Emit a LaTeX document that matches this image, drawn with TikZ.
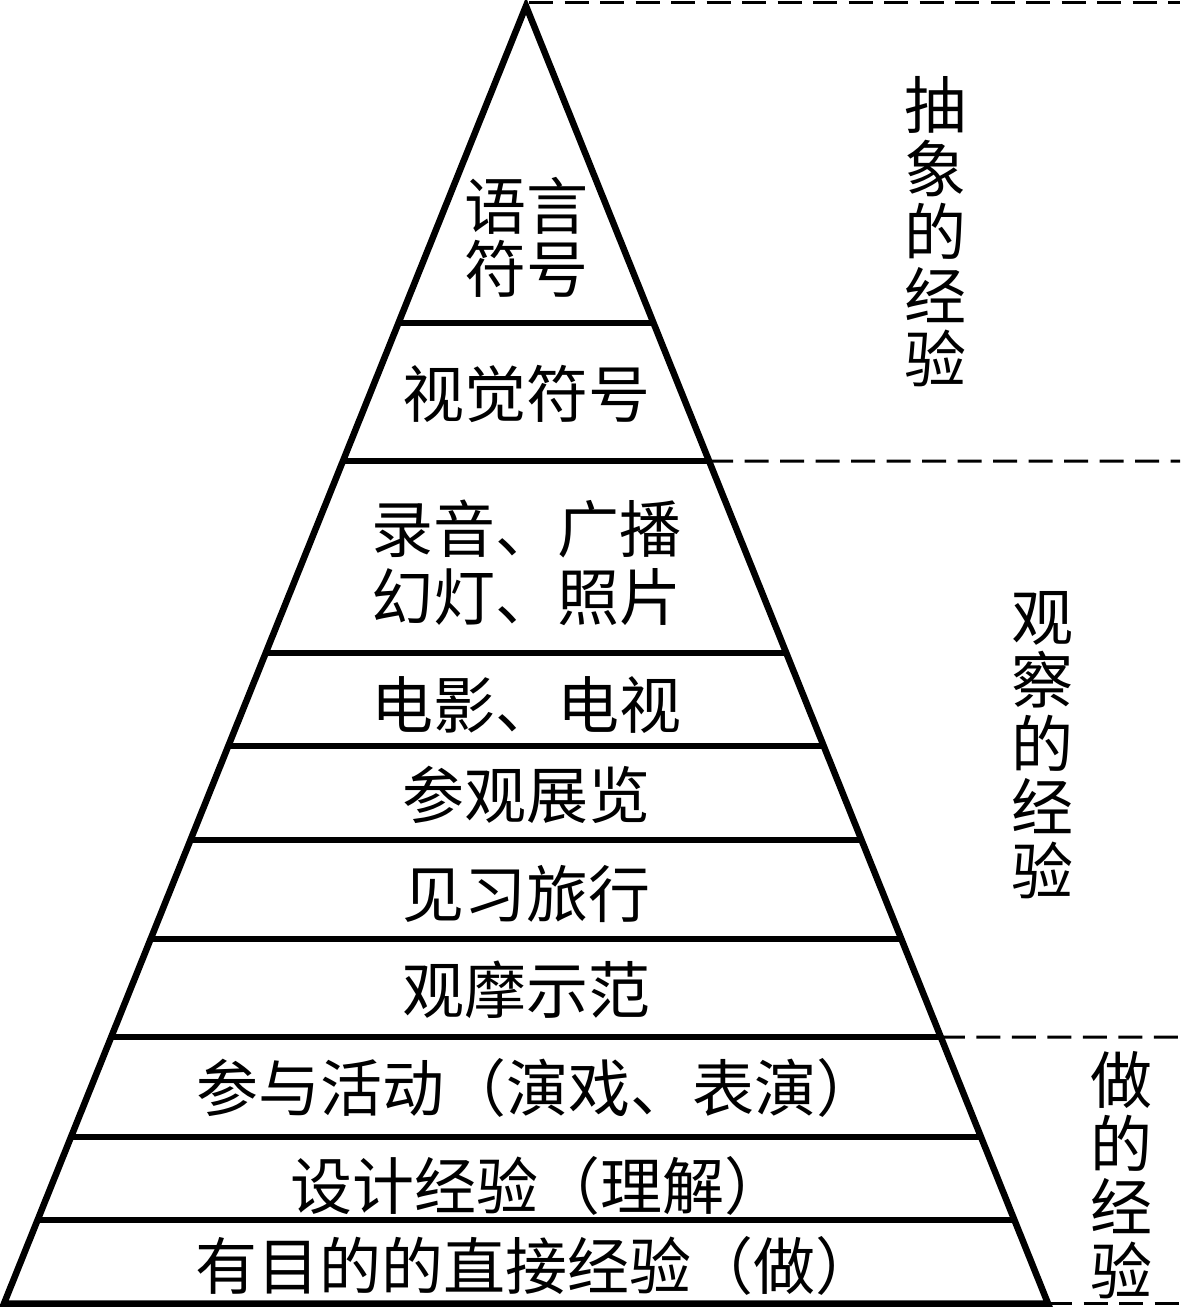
\documentclass[tikz,border=0pt]{standalone}
\usepackage{fontspec}
\setmainfont{Noto Sans CJK SC}
\usetikzlibrary{calc}
\begin{document}
\begin{tikzpicture}[x=1pt,y=-1pt,
  edge/.style={line width=6.5pt, line join=miter},
  bar/.style={line width=6.5pt},
  guide/.style={line width=3pt, dash pattern=on 24pt off 11.5pt},
  lbl/.style={font=\fontsize{62}{63}\selectfont, inner sep=0pt, align=center},
  vlbl/.style={font=\fontsize{62}{63.5}\selectfont, inner sep=0pt, align=center}]
\useasboundingbox (0,0) rectangle (1180,1308);
\coordinate (A) at (526,6);
\coordinate (L) at (4,1303.5);
\coordinate (R) at (1048,1303.5);
\draw[edge] (A) -- (L) -- (R) -- cycle;
\foreach \yy [count=\i] in {323,461,653,746,840,939,1037,1137,1220} {
  \coordinate (l\i) at ($(A)!{(\yy-6)/1297.5}!(L)$);
  \coordinate (r\i) at ($(A)!{(\yy-6)/1297.5}!(R)$);
  \draw[bar] (l\i) -- (r\i);
}
\coordinate (e0) at (1180,3);
\coordinate (e2) at (1180,461);
\coordinate (e7) at (1180,1037);
\coordinate (eb) at (1180,1303.5);
\draw[guide] ([xshift=3pt,yshift=3pt]A) -- (e0);
\draw[guide] (r2) -- (e2);
\draw[guide] (r7) -- (e7);
\draw[guide] (R) -- (eb);
\node[lbl] (n1) at (526,237) {语言\\符号};
\node[lbl] (n2) at (526,394) {视觉符号};
\node[lbl, font=\fontsize{62}{68}\selectfont] (n3) at (526,563) {录音、广播\\幻灯、照片};
\node[lbl] (n4) at (526,705) {电影、电视};
\node[lbl] (n5) at (526,795) {参观展览};
\node[lbl] (n6) at (526,894) {见习旅行};
\node[lbl] (n7) at (526,990) {观摩示范};
\node[lbl] (n8) at (537,1088) {参与活动（演戏、表演）};
\node[lbl] (n9) at (538,1186) {设计经验（理解）};
\node[lbl] (n10) at (536,1266) {有目的的直接经验（做）};
\node[vlbl] (v1) at (935,232) {抽\\象\\的\\经\\验};
\node[vlbl] (v2) at (1042,745) {观\\察\\的\\经\\验};
\node[vlbl] (v3) at (1121,1175) {做\\的\\经\\验};
\end{tikzpicture}
\end{document}
